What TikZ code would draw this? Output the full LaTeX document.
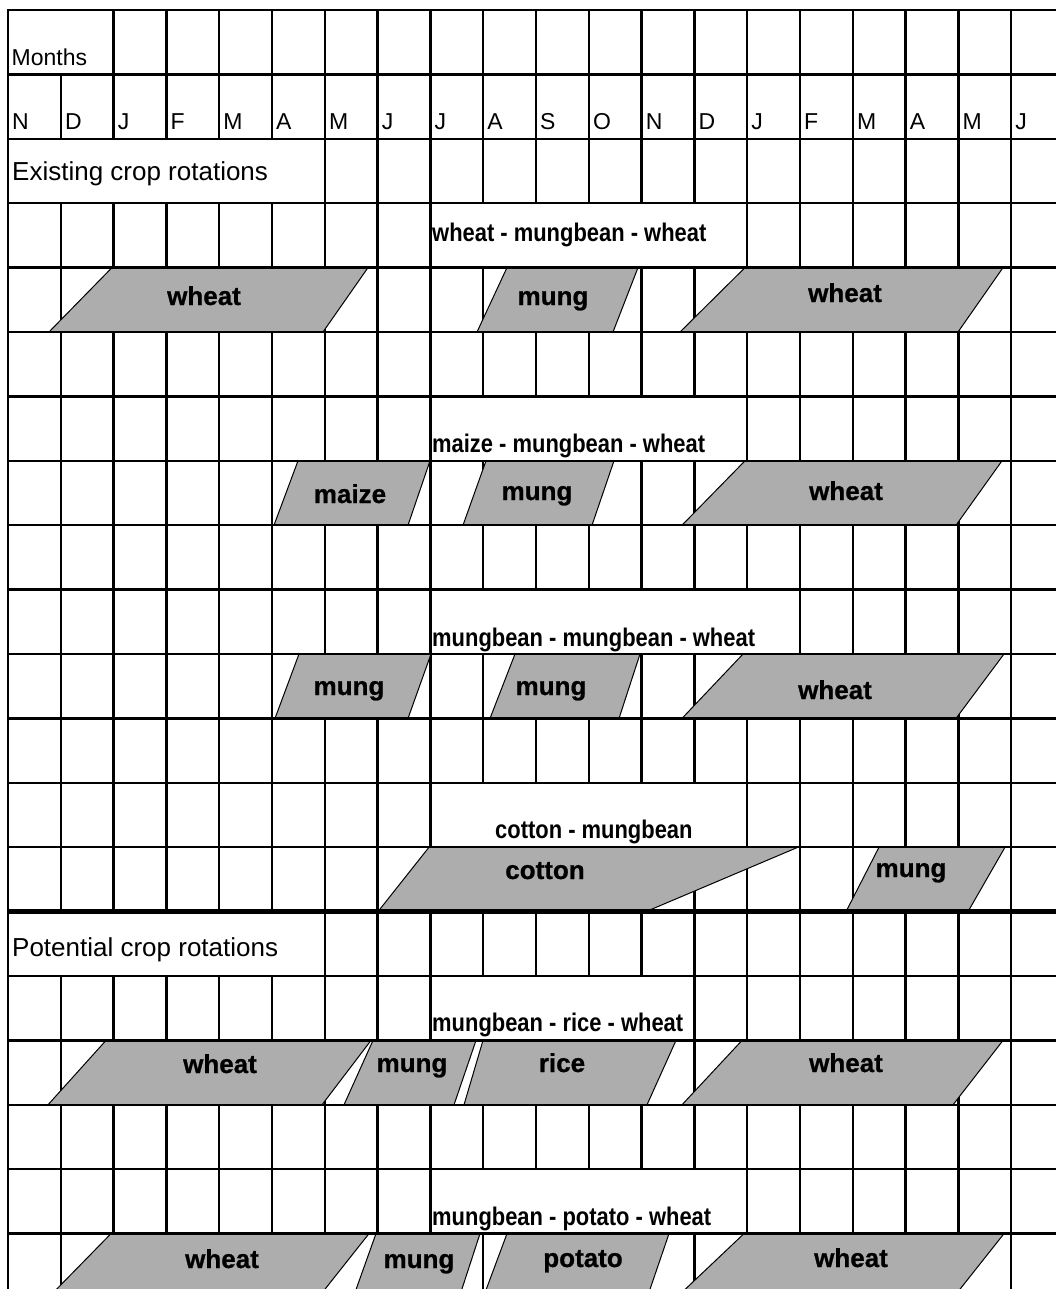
\documentclass[tikz,border=0pt]{standalone}
\usepackage{fontspec}
\setmainfont{Liberation Sans}
\newfontfamily\narrowfont[FakeStretch=0.86]{Liberation Sans}
\newfontfamily\cropfont[BoldFeatures={FakeBold=0.8}]{Liberation Sans}
\tikzset{
  gridline/.style={line width=2.4pt},
  sepline/.style={line width=5pt},
  cellbox/.style={draw, fill=white, line width=2.4pt},
  cropbar/.style={draw, line width=1pt, fill=black!32},
  croplabel/.style={anchor=base, inner sep=0pt, font=\cropfont\fontsize{26}{30}\selectfont\bfseries},
  rotlabel/.style={anchor=base west, inner sep=0pt, font=\narrowfont\fontsize{25.5}{30}\selectfont\bfseries},
  headlabel/.style={anchor=base west, inner sep=0pt, font=\fontsize{26}{30}\selectfont},
  monthlabel/.style={anchor=base west, inner sep=0pt, font=\fontsize{23}{27}\selectfont},
}
\begin{document}
\begin{tikzpicture}[x=1pt, y=-1pt]
  \useasboundingbox (0,0) rectangle (1056,1289);
  \clip (0,0) rectangle (1056,1289);
  \fill[white] (0,0) rectangle (1056,1289);

  % Vertical grid lines
  \foreach \c in {0,...,20}
    \draw[gridline] ({8+52.8*\c},10) -- ({8+52.8*\c},1298);

  % Merged cells
  \draw[cellbox] (8,10) rectangle (113.6,74.4);
  \draw[cellbox] (8,138.8) rectangle (324.8,203.2);
  \draw[cellbox] (430.4,203.2) rectangle (747.2,267.6);
  \draw[cellbox] (430.4,396.4) rectangle (747.2,460.8);
  \draw[cellbox] (430.4,589.6) rectangle (800,654);
  \draw[cellbox] (430.4,782.8) rectangle (747.2,847.2);
  \draw[cellbox] (8,911.6) rectangle (324.8,976);
  \draw[cellbox] (430.4,976) rectangle (694.4,1040.4);
  \draw[cellbox] (430.4,1169.2) rectangle (747.2,1233.6);

  % Existing: wheat - mungbean - wheat
  \filldraw[cropbar] (112,267.6) -- (368,267.6) -- (323,332) -- (49,332) -- cycle;
  \filldraw[cropbar] (507,267.6) -- (638,267.6) -- (613,332) -- (477,332) -- cycle;
  \filldraw[cropbar] (745,267.6) -- (1003,267.6) -- (958,332) -- (680,332) -- cycle;
  % Existing: maize - mungbean - wheat
  \filldraw[cropbar] (298,460.8) -- (430,460.8) -- (408,525.2) -- (274,525.2) -- cycle;
  \filldraw[cropbar] (486,460.8) -- (614,460.8) -- (592,525.2) -- (463,525.2) -- cycle;
  \filldraw[cropbar] (745,460.8) -- (1002,460.8) -- (956,525.2) -- (682,525.2) -- cycle;
  % Existing: mungbean - mungbean - wheat
  \filldraw[cropbar] (299,654) -- (431,654) -- (408,718.4) -- (275,718.4) -- cycle;
  \filldraw[cropbar] (515,654) -- (640,654) -- (619,718.4) -- (490,718.4) -- cycle;
  \filldraw[cropbar] (743,654) -- (1004,654) -- (956,718.4) -- (682,718.4) -- cycle;
  % Existing: cotton - mungbean
  \filldraw[cropbar] (429,847.2) -- (798,847.2) -- (646,911.6) -- (378,911.6) -- cycle;
  \filldraw[cropbar] (879,847.2) -- (1005,847.2) -- (968,911.6) -- (846,911.6) -- cycle;
  % Potential: mungbean - rice - wheat
  \filldraw[cropbar] (106,1040.4) -- (371,1040.4) -- (322,1104.8) -- (48,1104.8) -- cycle;
  \filldraw[cropbar] (373,1040.4) -- (476,1040.4) -- (454,1104.8) -- (344,1104.8) -- cycle;
  \filldraw[cropbar] (483,1040.4) -- (676,1040.4) -- (647,1104.8) -- (464,1104.8) -- cycle;
  \filldraw[cropbar] (742,1040.4) -- (1003,1040.4) -- (953,1104.8) -- (682,1104.8) -- cycle;
  % Potential: mungbean - potato - wheat
  \filldraw[cropbar] (111,1233.6) -- (369,1233.6) -- (318,1298) -- (48,1298) -- cycle;
  \filldraw[cropbar] (376,1233.6) -- (480,1233.6) -- (459,1298) -- (353,1298) -- cycle;
  \filldraw[cropbar] (507,1233.6) -- (669,1233.6) -- (647,1298) -- (483,1298) -- cycle;
  \filldraw[cropbar] (744,1233.6) -- (1004,1233.6) -- (953,1298) -- (676,1298) -- cycle;

  % Horizontal grid lines
  \foreach \r in {0,...,19}
    \draw[gridline] (7,{10+64.4*\r}) -- (1064,{10+64.4*\r});
  \draw[sepline] (7,911.6) -- (1064,911.6);

  % Headings
  \node[monthlabel] (months) at (11.5,66) {Months};
  \foreach \m [count=\c from 0] in {N,D,J,F,M,A,M,J,J,A,S,O,N,D,J,F,M,A,M,J}
    \node[monthlabel] (month\c) at ({12+52.8*\c},130) {\m};
  \node[headlabel] (existing) at (12,181) {Existing crop rotations};
  \node[headlabel] (potential) at (12,956) {Potential crop rotations};

  % Rotation names
  \node[rotlabel] (rot1) at (432,241) {wheat - mungbean - wheat};
  \node[rotlabel] (rot2) at (432,452) {maize - mungbean - wheat};
  \node[rotlabel] (rot3) at (432,646) {mungbean - mungbean - wheat};
  \node[rotlabel] (rot4) at (495,838) {cotton - mungbean};
  \node[rotlabel] (rot5) at (432,1031) {mungbean - rice - wheat};
  \node[rotlabel] (rot6) at (432,1225) {mungbean - potato - wheat};

  % Crop names
  \node[croplabel] (crop1a) at (204,305) {wheat};
  \node[croplabel] (crop1b) at (553,305) {mung};
  \node[croplabel] (crop1c) at (845,302) {wheat};
  \node[croplabel] (crop2a) at (350,503) {maize};
  \node[croplabel] (crop2b) at (537,500) {mung};
  \node[croplabel] (crop2c) at (846,500) {wheat};
  \node[croplabel] (crop3a) at (349,695) {mung};
  \node[croplabel] (crop3b) at (551,695) {mung};
  \node[croplabel] (crop3c) at (835,699) {wheat};
  \node[croplabel] (crop4a) at (545,879) {cotton};
  \node[croplabel] (crop4b) at (911,877) {mung};
  \node[croplabel] (crop5a) at (220,1073) {wheat};
  \node[croplabel] (crop5b) at (412,1072) {mung};
  \node[croplabel] (crop5c) at (562,1072) {rice};
  \node[croplabel] (crop5d) at (846,1072) {wheat};
  \node[croplabel] (crop6a) at (222,1268) {wheat};
  \node[croplabel] (crop6b) at (419,1268) {mung};
  \node[croplabel] (crop6c) at (583,1267) {potato};
  \node[croplabel] (crop6d) at (851,1267) {wheat};
\end{tikzpicture}
\end{document}
